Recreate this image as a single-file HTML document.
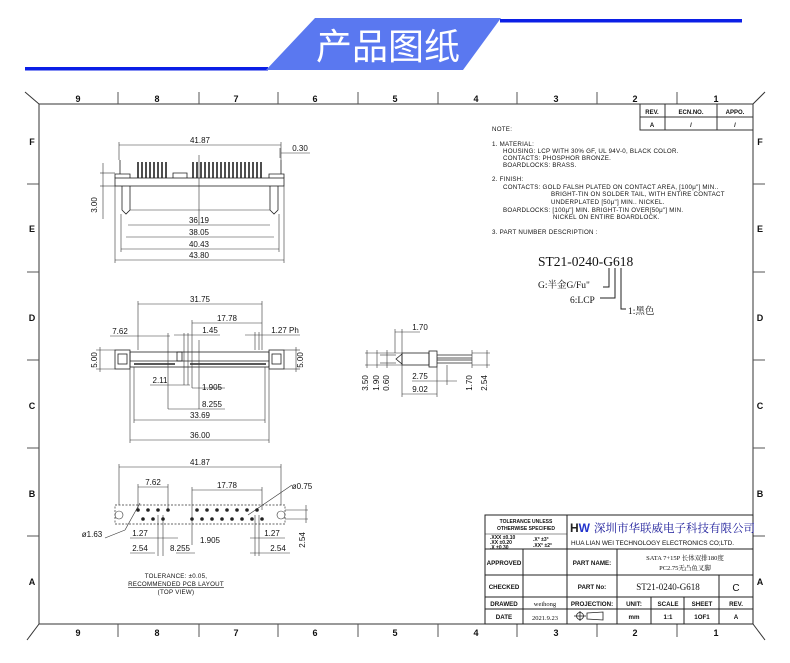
<!DOCTYPE html>
<html><head><meta charset="utf-8"><style>
body{margin:0;background:#fff;width:790px;height:663px;overflow:hidden}
svg{display:block}
text{font-family:"Liberation Sans","Noto Sans CJK SC",sans-serif;fill:#111}
.d{font-size:8px}
.s{font-size:6.2px;letter-spacing:0.25px}
.b{font-size:9px;font-weight:bold}
</style></head><body>
<svg width="790" height="663" viewBox="0 0 790 663" xmlns="http://www.w3.org/2000/svg">
<!-- banner -->
<rect x="25" y="67" width="243" height="3.5" fill="#0b1fe6"/>
<rect x="500" y="19" width="242" height="3.5" fill="#0b1fe6"/>
<polygon points="315,18 501,18 463,70 266,70" fill="#5a78f0"/>
<text x="388" y="59" text-anchor="middle" style="font-size:36px;fill:#fff;font-family:'Noto Sans CJK SC',sans-serif">产品图纸</text>

<g stroke="#333" fill="none" stroke-width="1">
<rect x="39" y="104" width="714" height="520"/>
<line x1="39" y1="104" x2="25" y2="92"/><line x1="753" y1="104" x2="765" y2="92"/>
<line x1="39" y1="624" x2="27" y2="640"/><line x1="753" y1="624" x2="765" y2="640"/>
</g>
<g stroke="#555" stroke-width="1">
<line x1="118" y1="92" x2="118" y2="104"/><line x1="199" y1="92" x2="199" y2="104"/><line x1="278" y1="92" x2="278" y2="104"/><line x1="358" y1="92" x2="358" y2="104"/><line x1="438" y1="92" x2="438" y2="104"/><line x1="517" y1="92" x2="517" y2="104"/><line x1="597" y1="92" x2="597" y2="104"/><line x1="677" y1="92" x2="677" y2="104"/>
<line x1="118" y1="624" x2="118" y2="637"/><line x1="199" y1="624" x2="199" y2="637"/><line x1="278" y1="624" x2="278" y2="637"/><line x1="358" y1="624" x2="358" y2="637"/><line x1="438" y1="624" x2="438" y2="637"/><line x1="517" y1="624" x2="517" y2="637"/><line x1="597" y1="624" x2="597" y2="637"/><line x1="677" y1="624" x2="677" y2="637"/>
<line x1="27" y1="184" x2="39" y2="184"/><line x1="27" y1="272" x2="39" y2="272"/><line x1="27" y1="360" x2="39" y2="360"/><line x1="27" y1="448" x2="39" y2="448"/><line x1="27" y1="536" x2="39" y2="536"/>
<line x1="753" y1="184" x2="765" y2="184"/><line x1="753" y1="272" x2="765" y2="272"/><line x1="753" y1="360" x2="765" y2="360"/><line x1="753" y1="448" x2="765" y2="448"/><line x1="753" y1="536" x2="765" y2="536"/>
</g>
<g class="b" text-anchor="middle">
<text x="78" y="102">9</text><text x="157" y="102">8</text><text x="236" y="102">7</text><text x="315" y="102">6</text><text x="395" y="102">5</text><text x="476" y="102">4</text><text x="556" y="102">3</text><text x="635" y="102">2</text><text x="716" y="102">1</text>
<text x="78" y="636">9</text><text x="157" y="636">8</text><text x="236" y="636">7</text><text x="315" y="636">6</text><text x="395" y="636">5</text><text x="476" y="636">4</text><text x="556" y="636">3</text><text x="635" y="636">2</text><text x="716" y="636">1</text>
<text x="32" y="145">F</text><text x="32" y="232">E</text><text x="32" y="321">D</text><text x="32" y="409">C</text><text x="32" y="497">B</text><text x="32" y="585">A</text>
<text x="760" y="145">F</text><text x="760" y="232">E</text><text x="760" y="321">D</text><text x="760" y="409">C</text><text x="760" y="497">B</text><text x="760" y="585">A</text>
</g>
<!-- rev table -->
<g stroke="#333" fill="none"><rect x="640" y="104" width="113" height="26"/><line x1="640" y1="117" x2="753" y2="117"/><line x1="665" y1="104" x2="665" y2="130"/><line x1="717" y1="104" x2="717" y2="130"/></g>
<g style="font-size:6px" text-anchor="middle" font-weight="bold"><text x="652" y="114">REV.</text><text x="691" y="114">ECN.NO.</text><text x="735" y="114">APPO.</text><text x="652" y="127">A</text><text x="691" y="127">/</text><text x="735" y="127">/</text></g>

<!-- notes -->
<g class="s">
<text x="492" y="131">NOTE:</text>
<text x="492" y="146">1. MATERIAL:</text>
<text x="503" y="153">HOUSING: LCP WITH 30% GF, UL 94V-0, BLACK COLOR.</text>
<text x="503" y="160">CONTACTS: PHOSPHOR BRONZE.</text>
<text x="503" y="167">BOARDLOCKS: BRASS.</text>
<text x="492" y="181">2. FINISH:</text>
<text x="503" y="189">CONTACTS:   GOLD FALSH PLATED ON CONTACT AREA,  [100μ"] MIN..</text>
<text x="551" y="196">BRIGHT-TIN ON SOLDER TAIL, WITH ENTIRE CONTACT</text>
<text x="551" y="204">UNDERPLATED  [50μ"] MIN.. NICKEL.</text>
<text x="503" y="212">BOARDLOCKS: [100μ"] MIN. BRIGHT-TIN OVER[50μ"] MIN.</text>
<text x="553" y="219">NICKEL ON ENTIRE BOARDLOCK.</text>
<text x="492" y="234">3. PART NUMBER DESCRIPTION :</text>
</g>
<text x="538" y="266" style="font-size:13.5px;font-family:'Liberation Serif',serif">ST21-0240-G618</text>
<text x="538" y="288" style="font-size:9.5px;font-family:'Liberation Serif','Noto Serif CJK SC',serif">G:半金G/Fu"</text>
<text x="570" y="303" style="font-size:9.5px;font-family:'Liberation Serif',serif">6:LCP</text>
<text x="628" y="314" style="font-size:9.5px;font-family:'Liberation Serif','Noto Serif CJK SC',serif">1:黑色</text>
<g stroke="#222" fill="none"><polyline points="609,268 609,287 603,287"/><polyline points="615,268 615,298 600,298"/><polyline points="621,268 621,309 626,309"/></g>

<!-- view 1 -->
<g stroke="#222" fill="none" stroke-width="0.8">
<rect x="115" y="178" width="169" height="8"/>
<polyline points="115,178 115,174 130,174 130,178"/><polyline points="269,178 269,174 284,174 284,178"/>
<polyline points="173,178 173,173 187,173 187,178"/>
<path d="M122,186 V210 L126,214 L130,210 V186 M270,186 V210 L274,214 L278,210 V186"/>
<line x1="120" y1="160" x2="120" y2="174"/><line x1="281" y1="160" x2="281" y2="174"/>
</g>
<g stroke="#222" stroke-width="1.6">
<path d="M138,162V178M142,162V178M146,162V178M150,162V178M154,162V178M158,162V178M162,162V178M166,162V178M193,162V178M197,162V178M201,162V178M205,162V178M209,162V178M213,162V178M217,162V178M221,162V178M225,162V178M229,162V178M233,162V178M237,162V178M241,162V178M245,162V178M249,162V178M253,162V178M257,162V178M261,162V178"/>
</g>
<g stroke="#333" fill="none" stroke-width="0.6">
<line x1="119" y1="145" x2="281" y2="145"/><line x1="119" y1="142" x2="119" y2="160"/><line x1="281" y1="142" x2="281" y2="160"/>
<line x1="281" y1="153" x2="310" y2="153"/><line x1="280" y1="148" x2="280" y2="158"/>
<line x1="100" y1="173" x2="115" y2="173"/><line x1="100" y1="186" x2="115" y2="186"/><line x1="103" y1="163" x2="103" y2="219"/>
<line x1="199" y1="155" x2="199" y2="225"/>
<line x1="130" y1="210" x2="270" y2="210"/>
<line x1="128" y1="225" x2="270" y2="225"/><line x1="126" y1="237" x2="274" y2="237"/><line x1="121" y1="249" x2="279" y2="249"/><line x1="115" y1="260" x2="284" y2="260"/>
<line x1="115" y1="186" x2="115" y2="263"/><line x1="284" y1="186" x2="284" y2="263"/><line x1="121" y1="214" x2="121" y2="252"/><line x1="279" y1="214" x2="279" y2="252"/>
</g>
<g class="d" text-anchor="middle"><text x="200" y="143">41.87</text><text x="300" y="151">0.30</text><text x="199" y="223">36.19</text><text x="199" y="235">38.05</text><text x="199" y="247">40.43</text><text x="199" y="258">43.80</text>
<text transform="translate(97,205) rotate(-90)">3.00</text></g>

<!-- view 2 -->
<g stroke="#222" fill="none" stroke-width="0.8">
<rect x="115" y="350" width="15" height="19"/><rect x="269" y="350" width="15" height="19"/>
<rect x="118" y="354" width="9" height="10"/><rect x="272" y="354" width="9" height="10"/>
<rect x="130" y="352" width="139" height="15"/>
<line x1="130" y1="361" x2="269" y2="361"/>
<rect x="177" y="352" width="5" height="9"/>
</g>
<g stroke="#222" stroke-width="1.5"><path d="M134,364H175M190,364H266"/></g>
<g stroke="#333" fill="none" stroke-width="0.6">
<line x1="138" y1="304" x2="262" y2="304"/><line x1="138" y1="301" x2="138" y2="350"/><line x1="262" y1="301" x2="262" y2="350"/>
<line x1="192" y1="323" x2="262" y2="323"/><line x1="192" y1="320" x2="192" y2="388"/>
<line x1="110" y1="336" x2="170" y2="336"/><line x1="168" y1="333" x2="168" y2="409"/>
<line x1="174" y1="335" x2="220" y2="335"/><line x1="184" y1="333" x2="184" y2="385"/><line x1="188" y1="333" x2="188" y2="385"/>
<line x1="245" y1="335" x2="300" y2="335"/><line x1="255" y1="332" x2="255" y2="350"/><line x1="259" y1="332" x2="259" y2="350"/>
<line x1="150" y1="385" x2="190" y2="385"/><line x1="192" y1="388" x2="225" y2="388"/>
<line x1="168" y1="409" x2="225" y2="409"/><line x1="199" y1="340" x2="199" y2="409"/>
<line x1="134" y1="420" x2="265" y2="420"/><line x1="134" y1="367" x2="134" y2="423"/><line x1="265" y1="367" x2="265" y2="423"/>
<line x1="130" y1="440" x2="269" y2="440"/><line x1="130" y1="369" x2="130" y2="443"/><line x1="269" y1="369" x2="269" y2="443"/>
<line x1="96" y1="350" x2="115" y2="350"/><line x1="96" y1="369" x2="115" y2="369"/><line x1="100" y1="347" x2="100" y2="372"/>
<line x1="284" y1="350" x2="300" y2="350"/><line x1="284" y1="369" x2="300" y2="369"/><line x1="296" y1="347" x2="296" y2="372"/>
</g>
<g class="d" text-anchor="middle"><text x="200" y="302">31.75</text><text x="227" y="321">17.78</text><text x="120" y="334">7.62</text><text x="210" y="333">1.45</text><text x="285" y="333">1.27 Ph</text>
<text x="160" y="383">2.11</text><text x="212" y="390">1.905</text><text x="212" y="407">8.255</text><text x="200" y="418">33.69</text><text x="200" y="438">36.00</text>
<text transform="translate(97,360) rotate(-90)">5.00</text><text transform="translate(303,360) rotate(-90)">5.00</text></g>

<!-- side view -->
<g stroke="#222" fill="none" stroke-width="0.8">
<path d="M402,354 L396,359 L402,364 Z"/>
<rect x="402" y="353" width="27" height="12"/><rect x="429" y="351" width="8" height="16"/>
<path d="M437,355H472M437,358H472M437,360H472M437,363H472"/>
</g>
<g stroke="#333" fill="none" stroke-width="0.6">
<line x1="395" y1="332" x2="420" y2="332"/><line x1="395" y1="329" x2="395" y2="353"/><line x1="402" y1="329" x2="402" y2="353"/>
<line x1="365" y1="353" x2="402" y2="353"/><line x1="365" y1="365" x2="402" y2="365"/><line x1="380" y1="355" x2="396" y2="355"/><line x1="380" y1="363" x2="396" y2="363"/>
<line x1="367" y1="350" x2="367" y2="368"/><line x1="377" y1="350" x2="377" y2="368"/><line x1="387" y1="350" x2="387" y2="368"/>
<line x1="402" y1="365" x2="402" y2="397"/><line x1="437" y1="367" x2="437" y2="397"/>
<line x1="402" y1="394" x2="437" y2="394"/><line x1="412" y1="381" x2="457" y2="381"/><line x1="447" y1="365" x2="447" y2="385"/>
<line x1="472" y1="353" x2="490" y2="353"/><line x1="472" y1="365" x2="490" y2="365"/><line x1="472" y1="350" x2="472" y2="368"/><line x1="487" y1="350" x2="487" y2="368"/>
</g>
<g class="d" text-anchor="middle"><text x="420" y="330">1.70</text><text x="420" y="379">2.75</text><text x="420" y="392">9.02</text>
<text transform="translate(368,383) rotate(-90)">3.50</text><text transform="translate(379,383) rotate(-90)">1.90</text><text transform="translate(389,383) rotate(-90)">0.60</text>
<text transform="translate(472,383) rotate(-90)">1.70</text><text transform="translate(487,383) rotate(-90)">2.54</text></g>

<!-- PCB layout -->
<g stroke="#333" fill="none" stroke-width="0.7" stroke-dasharray="2,1.5">
<rect x="115" y="505" width="170" height="19"/>
</g>
<g stroke="#333" fill="none" stroke-width="0.6">
<line x1="119" y1="467" x2="281" y2="467"/><line x1="119" y1="464" x2="119" y2="505"/><line x1="281" y1="464" x2="281" y2="505"/>
<line x1="138" y1="487" x2="168" y2="487"/><line x1="138" y1="484" x2="138" y2="510"/><line x1="168" y1="484" x2="168" y2="510"/>
<line x1="192" y1="490" x2="262" y2="490"/><line x1="192" y1="487" x2="192" y2="545"/><line x1="262" y1="487" x2="262" y2="510"/>
<line x1="125" y1="530" x2="140" y2="503"/><line x1="105" y1="538" x2="125" y2="530"/>
<line x1="248" y1="515" x2="292" y2="485"/>
<circle cx="119" cy="515" r="4"/><circle cx="281" cy="515" r="4"/>
<line x1="130" y1="538" x2="178" y2="538"/><line x1="130" y1="553" x2="155" y2="553"/><line x1="176" y1="553" x2="195" y2="553"/>
<line x1="158" y1="515" x2="158" y2="556"/><line x1="163" y1="515" x2="163" y2="556"/>
<line x1="250" y1="538" x2="285" y2="538"/><line x1="250" y1="553" x2="290" y2="553"/><line x1="255" y1="515" x2="255" y2="556"/><line x1="259" y1="515" x2="259" y2="556"/>
<line x1="285" y1="510" x2="308" y2="510"/><line x1="285" y1="519" x2="308" y2="519"/><line x1="306" y1="505" x2="306" y2="523"/>
</g>
<g fill="#222">
<circle cx="138" cy="510" r="1.8"/><circle cx="148" cy="510" r="1.8"/><circle cx="158" cy="510" r="1.8"/><circle cx="168" cy="510" r="1.8"/>
<circle cx="143" cy="519" r="1.8"/><circle cx="153" cy="519" r="1.8"/><circle cx="163" cy="519" r="1.8"/>
<circle cx="197" cy="510" r="1.8"/><circle cx="207" cy="510" r="1.8"/><circle cx="217" cy="510" r="1.8"/><circle cx="227" cy="510" r="1.8"/><circle cx="237" cy="510" r="1.8"/><circle cx="247" cy="510" r="1.8"/><circle cx="257" cy="510" r="1.8"/>
<circle cx="192" cy="519" r="1.8"/><circle cx="202" cy="519" r="1.8"/><circle cx="212" cy="519" r="1.8"/><circle cx="222" cy="519" r="1.8"/><circle cx="232" cy="519" r="1.8"/><circle cx="242" cy="519" r="1.8"/><circle cx="252" cy="519" r="1.8"/><circle cx="262" cy="519" r="1.8"/>
</g>
<g class="d" text-anchor="middle"><text x="200" y="465">41.87</text><text x="153" y="485">7.62</text><text x="227" y="488">17.78</text><text x="302" y="489">ø0.75</text><text x="92" y="537">ø1.63</text>
<text x="140" y="536">1.27</text><text x="140" y="551">2.54</text><text x="180" y="551">8.255</text><text x="210" y="543">1.905</text><text x="272" y="536">1.27</text><text x="278" y="551">2.54</text>
<text transform="translate(305,540) rotate(-90)">2.54</text></g>
<g class="s" text-anchor="middle"><text x="176" y="578">TOLERANCE:  ±0.05,</text><text x="176" y="586" text-decoration="underline">RECOMMENDED  PCB  LAYOUT</text><text x="176" y="594">(TOP  VIEW)</text></g>

<!-- title block -->
<g stroke="#222" fill="none" stroke-width="1">
<rect x="485" y="515" width="268" height="109"/>
<line x1="485" y1="549" x2="753" y2="549"/><line x1="485" y1="575" x2="753" y2="575"/><line x1="485" y1="597" x2="753" y2="597"/><line x1="485" y1="609" x2="753" y2="609"/>
<line x1="567" y1="515" x2="567" y2="624"/><line x1="523" y1="549" x2="523" y2="624"/><line x1="617" y1="549" x2="617" y2="624"/>
<line x1="719" y1="575" x2="719" y2="624"/><line x1="651" y1="597" x2="651" y2="624"/><line x1="684" y1="597" x2="684" y2="624"/>
<line x1="485" y1="534" x2="567" y2="534" stroke-width="0.6"/>
</g>
<g style="font-size:5px" font-weight="bold" text-anchor="middle"><text x="526" y="523">TOLERANCE UNLESS</text><text x="526" y="530">OTHERWISE SPECIFIED</text></g>
<g style="font-size:5px" font-weight="bold"><text x="490" y="539">.XXX ±0.10</text><text x="490" y="544">.XX  ±0.20</text><text x="490" y="549">.X   ±0.30</text><text x="533" y="541">.X°  ±3°</text><text x="533" y="547">.XX° ±2°</text></g>
<text x="570" y="532" style="font-size:12px;font-weight:bold;fill:#222">H<tspan style="fill:#2233cc">W</tspan></text>
<text x="594" y="532" style="font-size:11.5px;font-family:'Noto Serif CJK SC',serif;fill:#1a1a99">深圳市华联威电子科技有限公司</text>
<text x="571" y="545" style="font-size:6.4px">HUA LIAN WEI TECHNOLOGY ELECTRONICS CO;LTD.</text>
<g style="font-size:6.2px" font-weight="bold" text-anchor="middle">
<text x="504" y="565">APPROVED</text><text x="504" y="589">CHECKED</text><text x="504" y="606">DRAWED</text><text x="504" y="619">DATE</text>
<text x="592" y="565">PART NAME:</text><text x="592" y="589">PART No:</text><text x="592" y="606">PROJECTION:</text>
<text x="634" y="606">UNIT:</text><text x="668" y="606">SCALE</text><text x="702" y="606">SHEET</text><text x="736" y="606">REV.</text>
<text x="634" y="619">mm</text><text x="668" y="619">1:1</text><text x="702" y="619">1OF1</text><text x="736" y="619">A</text>
</g>
<g text-anchor="middle">
<text x="685" y="560" style="font-size:6.5px;font-family:'Liberation Serif','Noto Serif CJK SC',serif">SATA 7+15P 长体双排180度</text><text x="685" y="570" style="font-size:6.5px;font-family:'Liberation Serif','Noto Serif CJK SC',serif">PC2.75无凸鱼叉脚</text>
<text x="668" y="590" style="font-size:9px;font-family:'Liberation Serif',serif">ST21-0240-G618</text><text x="736" y="591" style="font-size:10px">C</text>
<text x="545" y="606" style="font-size:6.5px;font-family:'Liberation Serif',serif">weihong</text><text x="545" y="620" style="font-size:6.5px;font-family:'Liberation Serif',serif">2021.9.23</text>
</g>
<g stroke="#222" fill="none" stroke-width="0.8"><circle cx="580" cy="616" r="3.5"/><line x1="574" y1="616" x2="586" y2="616"/><line x1="580" y1="611" x2="580" y2="621"/><polygon points="587,613 603,612 603,620 587,619"/></g>
</svg>
</body></html>
